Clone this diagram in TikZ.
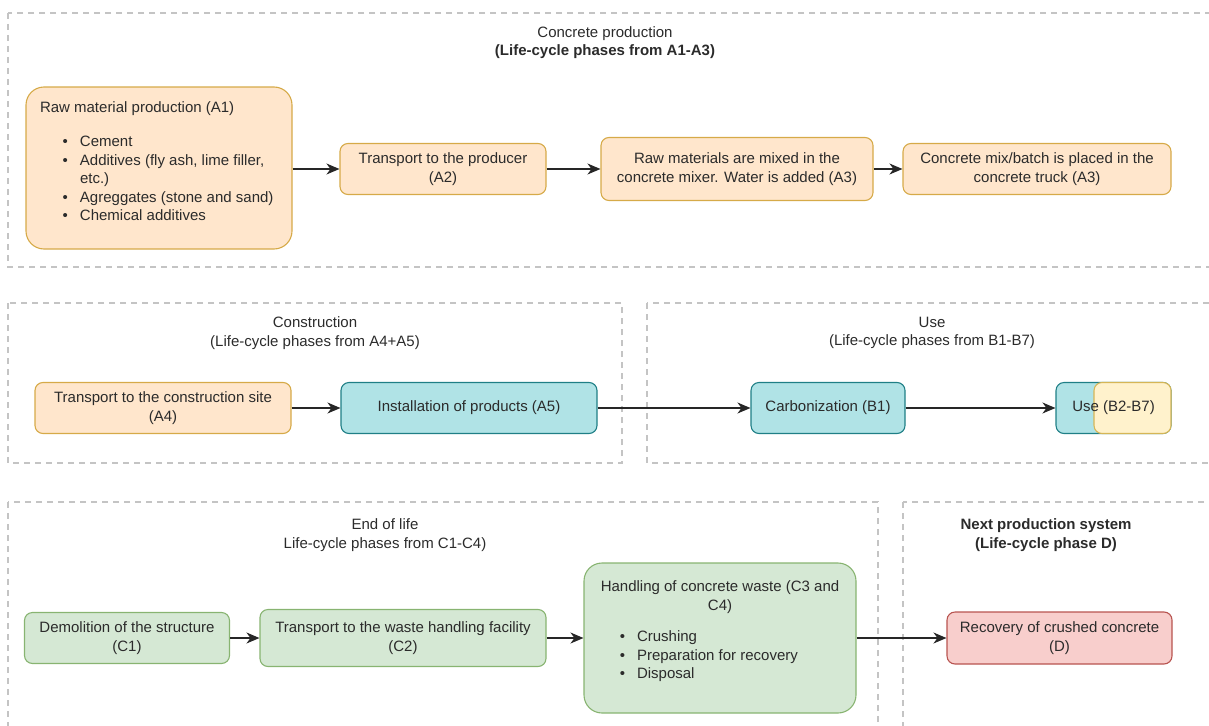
\documentclass[tikz,border=0pt]{standalone}
\usepackage{fontspec}
\setmainfont{Liberation Sans}
\usetikzlibrary{arrows.meta}

\definecolor{txtgray}{HTML}{2B2B2B}
\definecolor{framegray}{HTML}{C4C4C4}
\definecolor{oraFill}{HTML}{FFE6CC}
\definecolor{oraLine}{HTML}{D6AA48}
\definecolor{tealFill}{HTML}{B0E3E6}
\definecolor{tealLine}{HTML}{1F7F86}
\definecolor{grnFill}{HTML}{D5E8D4}
\definecolor{grnLine}{HTML}{88B471}
\definecolor{redFill}{HTML}{F8CECC}
\definecolor{redLine}{HTML}{B85450}
\definecolor{ylwFill}{HTML}{FFF2CC}
\definecolor{ylwLine}{HTML}{D6B656}

% one bullet line of a list inside a box
\newcommand{\bul}{\par\noindent\llap{\textbullet\hspace{12pt}}}

\begin{document}
\begin{tikzpicture}[
        x=1pt, y=-1pt,
        font=\fontsize{15}{18.5}\selectfont,
        text=txtgray,
        frame/.style={draw=framegray, line width=1.2pt, dash pattern=on 6pt off 5pt},
        title/.style={align=center, inner sep=0pt},
        box/.style={rounded corners=8pt, line width=1.1pt, align=center, inner sep=0pt},
        orabox/.style={box, draw=oraLine, fill=oraFill},
        tealbox/.style={box, draw=tealLine, fill=tealFill},
        grnbox/.style={box, draw=grnLine, fill=grnFill},
        redbox/.style={box, draw=redLine, fill=redFill},
        ylwbox/.style={box, draw=ylwLine, fill=ylwFill},
        flow/.style={-{Stealth[length=13pt,width=11pt,inset=4pt]}, line width=1.3pt, draw=black!85}
    ]

    \useasboundingbox (0,0) rectangle (1209,725);
    \clip (0,0) rectangle (1209,725);

    % ---------- section frames ----------
    \draw[frame] (8,13) rectangle (1230,267);
    \draw[frame] (8,303) rectangle (622,463);
    \draw[frame] (647,303) rectangle (1230,463);
    \draw[frame] (8,502) rectangle (878,760);
    \draw[frame] (903,502) rectangle (1230,760);

    % ---------- section titles ----------
    \node[title] (tProd) at (605,42.5) {Concrete production\\\textbf{(Life-cycle phases from A1-A3)}};
    \node[title] (tCons) at (315,333) {Construction\\(Life-cycle phases from A4+A5)};
    \node[title] (tUse)  at (932,333) {Use\\(Life-cycle phases from B1-B7)};
    \node[title] (tEnd)  at (385,535) {End of life\\Life-cycle phases from C1-C4)};
    \node[title] (tNext) at (1046,535) {\textbf{Next production system}\\\textbf{(Life-cycle phase D)}};

    % ---------- concrete production (A1-A3) ----------
    \node[orabox, rounded corners=18pt, minimum width=266, minimum height=162, inner xsep=14pt]
        (A1) at (159,168) {\parbox[c][162pt][t]{238pt}{\vspace*{15pt}\raggedright
        Raw material production (A1)\par\vspace{15.5pt}
        \leftskip=40pt
        \bul Cement
        \bul Additives (fly ash, lime filler,\\etc.)
        \bul Agreggates (stone and sand)
        \bul Chemical additives}};
    \node[orabox, minimum width=206, minimum height=51] (A2) at (443,169)
        {Transport to the producer\\(A2)};
    \node[orabox, minimum width=272, minimum height=63] (A3a) at (737,169)
        {Raw materials are mixed in the\\concrete mixer. Water is added (A3)};
    \node[orabox, minimum width=268, minimum height=51] (A3b) at (1037,169)
        {Concrete mix/batch is placed in the\\concrete truck (A3)};

    % ---------- construction and use ----------
    \node[orabox, minimum width=256, minimum height=51] (A4) at (163,408)
        {Transport to the construction site\\(A4)};
    \node[tealbox, minimum width=256, minimum height=51] (A5) at (469,408)
        {Installation of products (A5)};
    \node[tealbox, minimum width=154, minimum height=51] (B1) at (828,408)
        {Carbonization (B1)};
    \node[tealbox, minimum width=115, minimum height=51] (useB) at (1113.5,408) {};
    \node[ylwbox, minimum width=77, minimum height=51] (useY) at (1132.5,408) {};
    \node[inner sep=0pt] (useT) at (1113.5,408) {Use (B2-B7)};

    % ---------- end of life and next system ----------
    \node[grnbox, minimum width=205, minimum height=51] (C1) at (127,638)
        {Demolition of the structure\\(C1)};
    \node[grnbox, minimum width=286, minimum height=57] (C2) at (403,638)
        {Transport to the waste handling facility\\(C2)};
    \node[grnbox, rounded corners=18pt, minimum width=272, minimum height=150, inner xsep=14pt]
        (C3) at (720,638) {\parbox[c][150pt][t]{244pt}{\vspace*{18pt}\centering
        Handling of concrete waste (C3 and\\C4)\par\vspace{13pt}
        \raggedright\leftskip=39pt
        \bul Crushing
        \bul Preparation for recovery
        \bul Disposal}};
    \node[redbox, minimum width=225, minimum height=52] (D) at (1059.5,638)
        {Recovery of crushed concrete\\(D)};

    % ---------- connectors ----------
    \draw[flow] (A1.east |- A2) -- (A2);
    \draw[flow] (A2) -- (A3a);
    \draw[flow] (A3a) -- (A3b);
    \draw[flow] (A4) -- (A5);
    \draw[flow] (A5) -- (B1);
    \draw[flow] (B1) -- (useB);
    \draw[flow] (C1) -- (C2);
    \draw[flow] (C2) -- (C3);
    \draw[flow] (C3) -- (D);

\end{tikzpicture}
\end{document}
